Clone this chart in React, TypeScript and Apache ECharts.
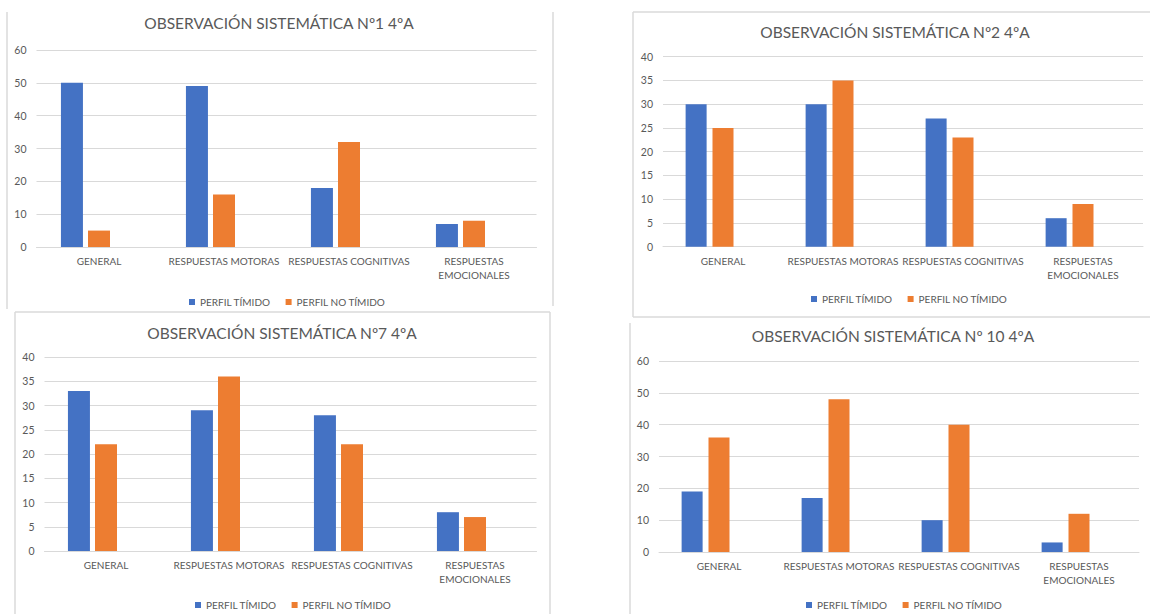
import React, { useEffect, useRef } from "react";
import * as echarts from "echarts";

// ---------- DATA ----------
const categories = ["GENERAL", "RESPUESTAS MOTORAS", "RESPUESTAS COGNITIVAS", "RESPUESTAS EMOCIONALES"];
const seriesNames = ["PERFIL TÍMIDO", "PERFIL NO TÍMIDO"];
const titles = [
  "OBSERVACIÓN SISTEMÁTICA Nº1 4ºA",
  "OBSERVACIÓN SISTEMÁTICA Nº2 4ºA",
  "OBSERVACIÓN SISTEMÁTICA Nº7 4ºA",
  "OBSERVACIÓN SISTEMÁTICA Nº 10 4ºA",
];
const obs1Timido = [50, 49, 18, 7];
const obs1NoTimido = [5, 16, 32, 8];
const obs2Timido = [30, 30, 27, 6];
const obs2NoTimido = [25, 35, 23, 9];
const obs7Timido = [33, 29, 28, 8];
const obs7NoTimido = [22, 36, 22, 7];
const obs10Timido = [19, 17, 10, 3];
const obs10NoTimido = [36, 48, 40, 12];
const yMax = [60, 40, 40, 60];
const yInterval = [10, 5, 5, 10];

// ---------- LAYOUT ----------
const panels = [
  { title: [279, 23], grid: { left: 36.5, top: 50, width: 500, height: 197 }, legend: [184, 292], barW: 22, gap: "23%" },
  { title: [895, 32], grid: { left: 663, top: 56.7, width: 480, height: 190 }, legend: [806, 289], barW: 21, gap: "28%" },
  { title: [282, 333], grid: { left: 44.5, top: 357, width: 492, height: 194 }, legend: [190, 595], barW: 22, gap: "23%" },
  { title: [893, 336], grid: { left: 659, top: 361, width: 480, height: 191 }, legend: [801, 595], barW: 21, gap: "28%" },
];

const FONT = "Lato, 'Noto Sans', sans-serif";
const TEXT = "#595959";
const GRID = "#D9D9D9";
const BLUE = "#4472C4";
const ORANGE = "#ED7D31";
const BORDER = "#DADADA";

const seriesData = [
  [obs1Timido, obs1NoTimido],
  [obs2Timido, obs2NoTimido],
  [obs7Timido, obs7NoTimido],
  [obs10Timido, obs10NoTimido],
];

function buildOption() {
  const grid: any[] = [];
  const xAxis: any[] = [];
  const yAxis: any[] = [];
  const series: any[] = [];
  const legend: any[] = [];
  const graphic: any[] = [];

  panels.forEach((p, i) => {
    grid.push({ ...p.grid, containLabel: false });
    xAxis.push({
      type: "category",
      gridIndex: i,
      data: categories,
      axisLine: { show: true, lineStyle: { color: GRID, width: 1 } },
      axisTick: { show: false },
      axisLabel: {
        interval: 0,
        hideOverlap: false,
        color: TEXT,
        fontFamily: FONT,
        fontSize: 10,
        lineHeight: 14,
        margin: 7,
        formatter: (v: string) => (v.length > 21 ? v.replace(" ", "\n") : v),
      },
    });
    yAxis.push({
      type: "value",
      gridIndex: i,
      min: 0,
      max: yMax[i],
      interval: yInterval[i],
      axisLine: { show: false },
      axisTick: { show: false },
      splitLine: { lineStyle: { color: GRID, width: 1 } },
      axisLabel: { color: TEXT, fontFamily: FONT, fontSize: 10.5, margin: 10 },
    });
    seriesData[i].forEach((d, s) => {
      series.push({
        type: "bar",
        name: seriesNames[s],
        xAxisIndex: i,
        yAxisIndex: i,
        data: d,
        barWidth: p.barW,
        barGap: p.gap,
        itemStyle: { color: s === 0 ? BLUE : ORANGE },
      });
    });
    // empty third series (present in the original workbook, no values)
    series.push({
      type: "bar",
      name: "",
      xAxisIndex: i,
      yAxisIndex: i,
      data: categories.map(() => "-"),
      barWidth: p.barW,
      barGap: p.gap,
    });
    legend.push({
      data: seriesNames,
      left: p.legend[0],
      top: p.legend[1],
      itemWidth: 6,
      itemHeight: 6,
      itemGap: 15,
      icon: "rect",
      textStyle: { color: TEXT, fontFamily: FONT, fontSize: 10 },
      selectedMode: false,
    });
    graphic.push({
      type: "text",
      x: p.title[0],
      y: p.title[1],
      style: {
        text: titles[i],
        fill: TEXT,
        font: `15.5px ${FONT}`,
        textAlign: "center",
        textVerticalAlign: "middle",
      },
    });
  });

  const line = (x1: number, y1: number, x2: number, y2: number) => ({
    type: "line",
    shape: { x1, y1, x2, y2 },
    style: { stroke: BORDER, lineWidth: 1.5 },
    silent: true,
  });
  // panel frames
  graphic.push(line(7, 12, 7, 309));
  graphic.push(line(553, 12, 553, 306));
  graphic.push(line(15, 312, 550, 312));
  graphic.push(line(15, 312, 15, 620));
  graphic.push(line(550, 312, 550, 620));
  graphic.push(line(633, 12, 1152, 12));
  graphic.push(line(633, 12, 633, 317));
  graphic.push(line(633, 317, 1152, 317));
  graphic.push(line(630, 323, 630, 620));

  return {
    animation: false,
    backgroundColor: "#ffffff",
    textStyle: { fontFamily: FONT },
    grid,
    xAxis,
    yAxis,
    series,
    legend,
    graphic,
  };
}

export default function App() {
  const ref = useRef<HTMLDivElement>(null);
  useEffect(() => {
    if (!ref.current) return;
    const chart = echarts.init(ref.current, undefined, { renderer: "svg" });
    chart.setOption(buildOption() as any);
    return () => chart.dispose();
  }, []);
  return (
    <div
      ref={ref}
      style={{ position: "fixed", left: 0, top: 0, width: 1150, height: 614, background: "#fff" }}
    />
  );
}
